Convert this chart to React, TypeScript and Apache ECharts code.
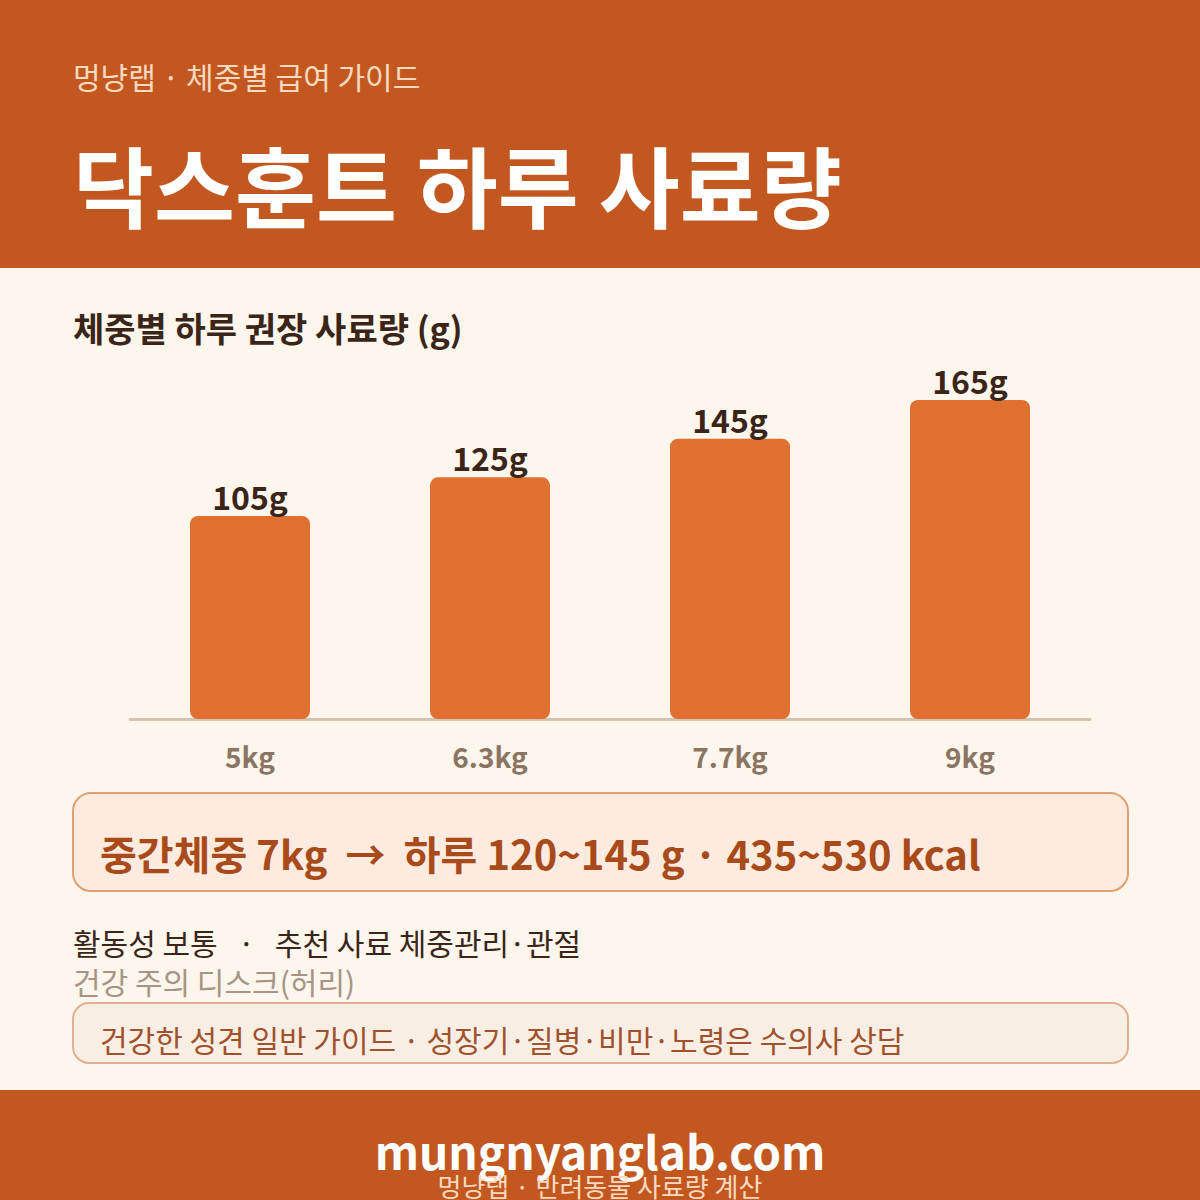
import React, { useEffect, useRef } from "react";
import * as echarts from "echarts";

const categories = ["5kg", "6.3kg", "7.7kg", "9kg"];
const values = [105, 125, 145, 165];
const headerSub = "멍냥랩 · 체중별 급여 가이드";
const headerTitle = "닥스훈트 하루 사료량";
const chartTitle = "체중별 하루 권장 사료량 (g)";
const infoText = "중간체중 7kg  →  하루 120~145 g · 435~530 kcal";
const line1 = "활동성 보통   ·   추천 사료 체중관리·관절";
const line2 = "건강 주의 디스크(허리)";
const noteText = "건강한 성견 일반 가이드 · 성장기·질병·비만·노령은 수의사 상담";
const footerMain = "mungnyanglab.com";
const footerSub = "멍냥랩 · 반려동물 사료량 계산";

const FONT = "'Noto Sans CJK KR', 'Noto Sans', sans-serif";
const ORANGE_DARK = "#C2581F";
const BAR = "#E07030";
const BG = "#FDF6EC";

export default function App() {
  const ref = useRef<HTMLDivElement>(null);
  useEffect(() => {
    document.body.style.margin = "0";
    const chart = echarts.init(ref.current!, null, { renderer: "svg" });
    chart.setOption({
      animation: false,
      backgroundColor: BG,
      textStyle: { fontFamily: FONT },
      grid: { left: 130, right: 110, top: 400, bottom: 481, containLabel: false },
      xAxis: {
        type: "category",
        data: categories,
        axisLine: { lineStyle: { color: "#D4C3B0", width: 3 } },
        axisTick: { show: false },
        axisLabel: {
          color: "#8C7462",
          fontSize: 28,
          fontWeight: "bold",
          fontFamily: FONT,
          margin: 23,
        },
      },
      yAxis: {
        type: "value",
        min: 0,
        max: 165,
        show: false,
        splitLine: { show: false },
      },
      series: [
        {
          type: "bar",
          data: values,
          barWidth: 120,
          itemStyle: { color: BAR, borderRadius: 8 },
          z: 2,
          label: {
            show: true,
            position: "top",
            distance: 4,
            formatter: "{c}g",
            color: "#3A2518",
            fontSize: 32,
            fontWeight: "bold",
            fontFamily: FONT,
          },
        },
      ],
      graphic: [
        { type: "rect", shape: { x: 0, y: 0, width: 1200, height: 268 }, style: { fill: ORANGE_DARK }, z: 0 },
        { type: "text", x: 73, y: 76, style: { text: headerSub, fill: "#F8D9C0", font: `400 30px ${FONT}`, textVerticalAlign: "middle" } },
        { type: "text", x: 73, y: 182, style: { text: headerTitle, fill: "#FFFFFF", font: `700 88px ${FONT}`, textVerticalAlign: "middle" } },
        { type: "text", x: 73, y: 327, style: { text: chartTitle, fill: "#3A2518", font: `700 34px ${FONT}`, textVerticalAlign: "middle" } },
        { type: "rect", shape: { x: 73, y: 793, width: 1055, height: 98, r: 18 }, style: { fill: "#FDEBDF", stroke: "#E0A070", lineWidth: 2 } },
        { type: "text", x: 100, y: 853, style: { text: infoText, fill: "#A84A1A", font: `700 40px ${FONT}`, textVerticalAlign: "middle" } },
        { type: "text", x: 73, y: 942, style: { text: line1, fill: "#3A2518", font: `400 30px ${FONT}`, textVerticalAlign: "middle" } },
        { type: "text", x: 73, y: 981, style: { text: line2, fill: "#A89484", font: `400 30px ${FONT}`, textVerticalAlign: "middle" } },
        { type: "rect", shape: { x: 73, y: 1003, width: 1055, height: 60, r: 16 }, style: { fill: "#F9EEE4", stroke: "#E0B090", lineWidth: 2 } },
        { type: "text", x: 100, y: 1039, style: { text: noteText, fill: "#A0522D", font: `400 30px ${FONT}`, textVerticalAlign: "middle" } },
        { type: "rect", shape: { x: 0, y: 1090, width: 1200, height: 110 }, style: { fill: ORANGE_DARK } },
        { type: "text", x: 600, y: 1150, style: { text: footerMain, fill: "#FFFFFF", font: `700 46px ${FONT}`, textAlign: "center", textVerticalAlign: "middle" } },
        { type: "text", x: 600, y: 1185, style: { text: footerSub, fill: "#F8D9C0", font: `400 26px ${FONT}`, textAlign: "center", textVerticalAlign: "middle" } },
      ],
    });
    return () => chart.dispose();
  }, []);
  return <div ref={ref} style={{ width: 1200, height: 1200 }} />;
}
